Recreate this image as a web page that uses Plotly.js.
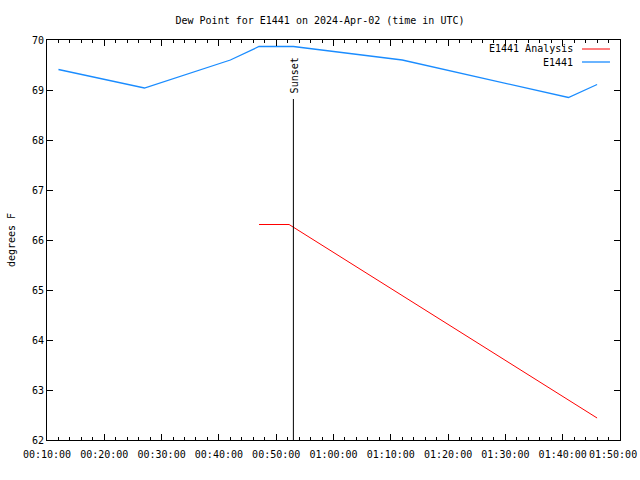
<!DOCTYPE html>
<html>
<head>
<meta charset="utf-8">
<script src="https://cdn.plot.ly/plotly-3.0.1.min.js"></script>
<style>html,body{margin:0;padding:0;background:#fff;}#chart{width:640px;height:480px;}</style>
</head>
<body>
<div id="chart"></div>
<script>
const DAY = "2024-04-02 ";
const obsTimes = ["00:12:00","00:27:00","00:42:00","00:47:00","00:53:00","01:12:00","01:41:00","01:46:00"];
const obsValues = [69.41, 69.04, 69.60, 69.87, 69.87, 69.60, 68.85, 69.11];
const anaTimes = ["00:47:00","00:52:15","01:46:00"];
const anaValues = [66.31, 66.31, 62.44];
const sunsetTime = "00:53:00";
const sunsetTop = 68.82;
const yTicks = [62, 63, 64, 65, 66, 67, 68, 69, 70];
const xTickLabels = ["00:10:00","00:20:00","00:30:00","00:40:00","00:50:00","01:00:00","01:10:00","01:20:00","01:30:00","01:40:00","01:50:00"];

const FONT = "DejaVu Sans Mono, monospace";
const BLUE = "#1a8cff";
const RED = "#ff0000";

const traces = [
  {x: anaTimes.map(t => DAY + t), y: anaValues, mode: "lines", name: "E1441 Analysis",
   line: {color: RED, width: 1}, showlegend: false},
  {x: obsTimes.map(t => DAY + t), y: obsValues, mode: "lines", name: "E1441",
   line: {color: BLUE, width: 1.3}, showlegend: false}
];

const lastLabel = xTickLabels[xTickLabels.length - 1];
const shownLabels = xTickLabels.map((t, i) => i === xTickLabels.length - 1 ? "" : t);

const layout = {
  width: 640, height: 480,
  margin: {l: 47, r: 20, t: 40, b: 40},
  paper_bgcolor: "#fff", plot_bgcolor: "#fff",
  font: {family: FONT, size: 10, color: "#000"},
  title: {text: "Dew Point for E1441 on 2024-Apr-02 (time in UTC)", font: {family: FONT, size: 10},
          x: 0.5, xanchor: "center", y: 0.958, yanchor: "middle"},
  xaxis: {
    type: "date",
    range: [DAY + xTickLabels[0], DAY + lastLabel],
    tickvals: xTickLabels.map(t => DAY + t), ticktext: shownLabels,
    ticks: "inside", ticklen: 6, tickcolor: "#000", tickwidth: 1, ticklabelstandoff: 5,
    minor: {dtick: 120000, ticks: "inside", ticklen: 3, tickcolor: "#000"},
    showgrid: false, zeroline: false, showline: true, linecolor: "#000", linewidth: 1,
    mirror: "ticks", tickfont: {family: FONT, size: 10}
  },
  yaxis: {
    range: [62, 70], tickvals: yTicks, ticktext: yTicks.map(String),
    ticks: "inside", ticklen: 6, tickcolor: "#000",
    showgrid: false, zeroline: false, showline: true, linecolor: "#000", linewidth: 1,
    mirror: "ticks", tickfont: {family: FONT, size: 10},
    title: {text: "degrees F", font: {family: FONT, size: 10}, standoff: 14}
  },
  shapes: [
    {type: "line", xref: "x", yref: "y", x0: DAY + sunsetTime, x1: DAY + sunsetTime,
     y0: 62, y1: sunsetTop, line: {color: "#000", width: 1}},
    {type: "line", xref: "paper", yref: "paper", x0: 0.9337, x1: 0.9825, y0: 0.9775, y1: 0.9775,
     line: {color: RED, width: 1}},
    {type: "line", xref: "paper", yref: "paper", x0: 0.9337, x1: 0.9825, y0: 0.945, y1: 0.945,
     line: {color: BLUE, width: 1.3}}
  ],
  annotations: [
    {text: "Sunset", xref: "x", yref: "paper", x: DAY + sunsetTime, y: 0.9125, textangle: -90,
     xanchor: "center", yanchor: "middle",
     showarrow: false, xshift: 1, font: {family: FONT, size: 10}},
    {text: "E1441 Analysis", xref: "paper", yref: "paper", x: 0.9215, y: 0.9775,
     xanchor: "right", yanchor: "middle", showarrow: false, font: {family: FONT, size: 10}},
    {text: "E1441", xref: "paper", yref: "paper", x: 0.9215, y: 0.945,
     xanchor: "right", yanchor: "middle", showarrow: false, font: {family: FONT, size: 10}},
    {text: lastLabel, xref: "paper", yref: "paper", x: 1.032, y: -0.0355,
     xanchor: "right", yanchor: "middle", showarrow: false, borderpad: 0,
     font: {family: FONT, size: 10}}
  ]
};

Plotly.newPlot("chart", traces, layout, {staticPlot: true, displayModeBar: false});
</script>
</body>
</html>
